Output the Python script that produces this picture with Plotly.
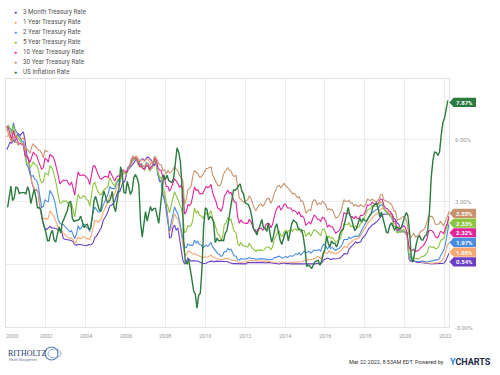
import plotly.graph_objects as go
import pandas as pd

# ---------------- data ----------------
series_names = ["3 Month Treasury Rate", "1 Year Treasury Rate", "2 Year Treasury Rate",
                "5 Year Treasury Rate", "10 Year Treasury Rate", "30 Year Treasury Rate",
                "US Inflation Rate"]
series_colors = ["#6a3fc6", "#f6a771", "#4a8de0", "#8bc53f", "#e0259a", "#c8926c", "#2b7a40"]

rate_3m = [
    5.50, 5.73, 5.86, 5.82, 5.99, 5.86, 6.14, 6.28, 6.18, 6.29, 6.36, 5.94,
    5.29, 5.01, 4.54, 3.97, 3.70, 3.57, 3.59, 3.44, 2.69, 2.20, 1.91, 1.72,
    1.68, 1.76, 1.83, 1.75, 1.76, 1.73, 1.71, 1.65, 1.66, 1.61, 1.25, 1.21,
    1.19, 1.19, 1.15, 1.15, 1.09, 0.94, 0.92, 0.97, 0.96, 0.94, 0.95, 0.91,
    0.90, 0.94, 0.95, 0.96, 1.04, 1.29, 1.36, 1.50, 1.68, 1.79, 2.11, 2.22,
    2.37, 2.58, 2.80, 2.84, 2.90, 3.04, 3.29, 3.52, 3.49, 3.79, 3.97, 3.97,
    4.34, 4.54, 4.63, 4.72, 4.84, 4.92, 5.08, 5.09, 4.93, 5.05, 5.07, 4.97,
    5.11, 5.16, 5.08, 5.01, 4.87, 4.74, 4.96, 4.32, 3.99, 4.00, 3.35, 3.07,
    2.82, 2.17, 1.28, 1.31, 1.76, 1.89, 1.66, 1.75, 1.15, 0.69, 0.19, 0.03,
    0.13, 0.30, 0.22, 0.16, 0.18, 0.18, 0.18, 0.17, 0.12, 0.07, 0.05, 0.05,
    0.06, 0.11, 0.15, 0.16, 0.16, 0.12, 0.16, 0.16, 0.15, 0.13, 0.14, 0.14,
    0.15, 0.13, 0.10, 0.06, 0.04, 0.04, 0.04, 0.02, 0.01, 0.02, 0.01, 0.01,
    0.03, 0.09, 0.08, 0.08, 0.09, 0.09, 0.10, 0.10, 0.11, 0.10, 0.09, 0.07,
    0.07, 0.10, 0.09, 0.06, 0.04, 0.05, 0.04, 0.04, 0.02, 0.05, 0.07, 0.07,
    0.04, 0.05, 0.05, 0.03, 0.03, 0.04, 0.03, 0.03, 0.02, 0.02, 0.02, 0.03,
    0.03, 0.02, 0.03, 0.02, 0.02, 0.02, 0.03, 0.07, 0.02, 0.02, 0.13, 0.23,
    0.26, 0.31, 0.29, 0.23, 0.27, 0.27, 0.30, 0.30, 0.29, 0.33, 0.45, 0.51,
    0.51, 0.52, 0.74, 0.80, 0.90, 0.99, 1.09, 1.03, 1.05, 1.09, 1.25, 1.34,
    1.43, 1.59, 1.73, 1.79, 1.90, 1.94, 1.99, 2.07, 2.17, 2.29, 2.37, 2.41,
    2.42, 2.44, 2.45, 2.43, 2.40, 2.22, 2.15, 1.99, 1.93, 1.68, 1.57, 1.57,
    1.55, 1.54, 0.30, 0.14, 0.13, 0.16, 0.13, 0.10, 0.11, 0.10, 0.09, 0.09,
    0.08, 0.04, 0.03, 0.02, 0.02, 0.04, 0.05, 0.05, 0.04, 0.05, 0.05, 0.06,
    0.15, 0.33, 0.54,
]

rate_1y = [
    6.12, 6.22, 6.22, 6.15, 6.33, 6.17, 6.08, 6.18, 6.13, 6.01, 6.09, 5.60,
    4.81, 4.68, 4.30, 3.98, 3.78, 3.58, 3.62, 3.47, 2.82, 2.33, 2.18, 2.22,
    2.16, 2.23, 2.57, 2.48, 2.35, 2.20, 1.96, 1.76, 1.72, 1.65, 1.49, 1.45,
    1.36, 1.30, 1.24, 1.27, 1.18, 1.01, 1.12, 1.31, 1.24, 1.25, 1.34, 1.31,
    1.24, 1.24, 1.19, 1.43, 1.78, 2.12, 2.10, 2.02, 2.12, 2.23, 2.50, 2.67,
    2.86, 3.03, 3.30, 3.32, 3.33, 3.36, 3.64, 3.87, 3.85, 4.18, 4.33, 4.35,
    4.45, 4.68, 4.77, 4.90, 5.00, 5.16, 5.22, 5.08, 4.97, 5.01, 5.01, 4.94,
    5.06, 5.05, 4.92, 4.93, 4.91, 4.96, 4.96, 4.47, 4.14, 4.10, 3.50, 3.26,
    2.71, 2.05, 1.54, 1.74, 2.06, 2.42, 2.28, 2.18, 1.91, 1.42, 1.07, 0.49,
    0.44, 0.62, 0.64, 0.55, 0.50, 0.51, 0.48, 0.46, 0.40, 0.37, 0.31, 0.37,
    0.35, 0.35, 0.40, 0.45, 0.37, 0.32, 0.29, 0.26, 0.26, 0.23, 0.25, 0.29,
    0.27, 0.29, 0.26, 0.25, 0.19, 0.18, 0.19, 0.11, 0.10, 0.11, 0.11, 0.12,
    0.12, 0.16, 0.19, 0.18, 0.19, 0.19, 0.19, 0.18, 0.18, 0.18, 0.18, 0.16,
    0.15, 0.16, 0.15, 0.12, 0.12, 0.14, 0.12, 0.13, 0.12, 0.12, 0.12, 0.13,
    0.12, 0.12, 0.13, 0.11, 0.10, 0.10, 0.11, 0.11, 0.11, 0.10, 0.13, 0.21,
    0.20, 0.22, 0.25, 0.23, 0.24, 0.28, 0.30, 0.38, 0.37, 0.26, 0.48, 0.65,
    0.54, 0.53, 0.66, 0.56, 0.59, 0.55, 0.51, 0.57, 0.59, 0.66, 0.74, 0.87,
    0.83, 0.82, 1.01, 1.04, 1.12, 1.20, 1.22, 1.23, 1.28, 1.40, 1.56, 1.70,
    1.80, 1.96, 2.06, 2.15, 2.27, 2.33, 2.39, 2.45, 2.56, 2.65, 2.70, 2.66,
    2.58, 2.55, 2.49, 2.42, 2.34, 2.00, 1.96, 1.77, 1.80, 1.61, 1.57, 1.55,
    1.53, 1.41, 0.33, 0.18, 0.16, 0.18, 0.14, 0.13, 0.13, 0.13, 0.12, 0.10,
    0.10, 0.07, 0.08, 0.06, 0.05, 0.07, 0.08, 0.07, 0.08, 0.11, 0.18, 0.30,
    0.55, 0.90, 1.05,
]

rate_2y = [
    6.44, 6.61, 6.53, 6.40, 6.81, 6.48, 6.34, 6.23, 6.08, 5.91, 5.88, 5.35,
    4.76, 4.66, 4.34, 4.23, 4.26, 4.08, 4.04, 3.76, 3.12, 2.73, 2.78, 3.11,
    3.03, 3.02, 3.56, 3.42, 3.26, 2.99, 2.56, 2.13, 2.00, 1.91, 1.92, 1.84,
    1.74, 1.63, 1.57, 1.62, 1.42, 1.23, 1.47, 1.86, 1.69, 1.75, 1.93, 1.91,
    1.76, 1.74, 1.58, 2.07, 2.53, 2.76, 2.64, 2.51, 2.53, 2.58, 2.85, 3.01,
    3.22, 3.38, 3.73, 3.65, 3.64, 3.64, 3.87, 4.04, 3.95, 4.27, 4.42, 4.40,
    4.40, 4.67, 4.73, 4.89, 4.97, 5.12, 5.12, 4.90, 4.77, 4.80, 4.74, 4.67,
    4.88, 4.85, 4.57, 4.67, 4.77, 5.00, 4.82, 4.34, 4.06, 3.97, 3.34, 3.12,
    2.48, 1.97, 1.62, 2.05, 2.45, 2.77, 2.57, 2.42, 2.08, 1.61, 1.21, 0.82,
    0.81, 0.98, 0.93, 0.93, 0.92, 1.18, 1.02, 1.12, 0.96, 0.95, 0.80, 0.87,
    0.93, 0.86, 0.96, 1.06, 0.83, 0.72, 0.62, 0.52, 0.48, 0.38, 0.45, 0.62,
    0.61, 0.77, 0.70, 0.73, 0.56, 0.41, 0.41, 0.23, 0.21, 0.28, 0.25, 0.26,
    0.24, 0.28, 0.34, 0.29, 0.29, 0.29, 0.25, 0.27, 0.26, 0.28, 0.27, 0.26,
    0.27, 0.27, 0.26, 0.23, 0.25, 0.33, 0.34, 0.36, 0.40, 0.34, 0.30, 0.34,
    0.39, 0.33, 0.40, 0.42, 0.39, 0.45, 0.51, 0.47, 0.57, 0.45, 0.53, 0.64,
    0.55, 0.62, 0.64, 0.54, 0.61, 0.69, 0.67, 0.70, 0.71, 0.64, 0.88, 0.98,
    0.90, 0.73, 0.88, 0.77, 0.82, 0.73, 0.67, 0.74, 0.77, 0.84, 0.98, 1.20,
    1.21, 1.20, 1.31, 1.24, 1.30, 1.34, 1.37, 1.34, 1.38, 1.55, 1.70, 1.84,
    2.03, 2.18, 2.28, 2.38, 2.51, 2.53, 2.61, 2.64, 2.77, 2.86, 2.86, 2.68,
    2.54, 2.50, 2.41, 2.34, 2.21, 1.81, 1.84, 1.57, 1.65, 1.55, 1.61, 1.61,
    1.52, 1.33, 0.45, 0.22, 0.17, 0.19, 0.14, 0.14, 0.13, 0.14, 0.17, 0.14,
    0.13, 0.12, 0.15, 0.16, 0.16, 0.20, 0.22, 0.22, 0.24, 0.39, 0.53, 0.69,
    0.97, 1.43, 1.97,
]

rate_5y = [
    6.58, 6.68, 6.50, 6.26, 6.69, 6.30, 6.18, 6.06, 5.93, 5.78, 5.70, 5.17,
    4.86, 4.89, 4.64, 4.76, 4.93, 4.81, 4.76, 4.57, 4.12, 3.91, 3.97, 4.39,
    4.34, 4.30, 4.74, 4.65, 4.49, 4.19, 3.81, 3.29, 2.94, 2.95, 3.05, 3.03,
    3.05, 2.90, 2.78, 2.93, 2.52, 2.27, 2.87, 3.37, 3.18, 3.19, 3.29, 3.27,
    3.12, 3.07, 2.79, 3.39, 3.85, 3.93, 3.69, 3.47, 3.36, 3.35, 3.53, 3.60,
    3.71, 3.77, 4.17, 4.00, 3.85, 3.77, 3.98, 4.12, 4.01, 4.33, 4.45, 4.39,
    4.35, 4.57, 4.72, 4.90, 5.00, 5.07, 5.04, 4.82, 4.67, 4.69, 4.58, 4.53,
    4.75, 4.71, 4.48, 4.59, 4.67, 5.03, 4.88, 4.43, 4.20, 4.20, 3.67, 3.49,
    2.98, 2.78, 2.48, 2.84, 3.15, 3.49, 3.30, 3.14, 2.88, 2.73, 2.29, 1.52,
    1.60, 1.87, 1.82, 1.86, 2.13, 2.71, 2.46, 2.57, 2.37, 2.33, 2.23, 2.34,
    2.48, 2.36, 2.43, 2.58, 2.18, 2.00, 1.76, 1.47, 1.41, 1.18, 1.35, 1.93,
    1.99, 2.26, 2.11, 2.17, 1.84, 1.58, 1.54, 1.02, 0.90, 1.06, 0.91, 0.89,
    0.84, 0.83, 1.02, 0.89, 0.76, 0.71, 0.62, 0.71, 0.67, 0.71, 0.67, 0.70,
    0.81, 0.85, 0.82, 0.71, 0.84, 1.20, 1.40, 1.52, 1.60, 1.37, 1.37, 1.58,
    1.65, 1.52, 1.64, 1.70, 1.59, 1.68, 1.70, 1.63, 1.77, 1.55, 1.62, 1.64,
    1.37, 1.47, 1.52, 1.35, 1.54, 1.68, 1.63, 1.54, 1.49, 1.39, 1.67, 1.70,
    1.52, 1.22, 1.38, 1.26, 1.30, 1.17, 1.07, 1.13, 1.18, 1.27, 1.60, 1.96,
    1.92, 1.90, 2.01, 1.82, 1.84, 1.77, 1.87, 1.78, 1.80, 1.98, 2.05, 2.18,
    2.38, 2.60, 2.63, 2.70, 2.82, 2.78, 2.78, 2.77, 2.89, 3.00, 2.95, 2.68,
    2.54, 2.49, 2.37, 2.33, 2.19, 1.83, 1.83, 1.49, 1.57, 1.53, 1.64, 1.68,
    1.56, 1.32, 0.59, 0.39, 0.34, 0.34, 0.28, 0.27, 0.27, 0.34, 0.39, 0.39,
    0.45, 0.54, 0.82, 0.86, 0.82, 0.84, 0.76, 0.77, 0.86, 1.11, 1.20, 1.23,
    1.54, 1.81, 2.33,
]

rate_10y = [
    6.66, 6.52, 6.26, 5.99, 6.44, 6.10, 6.05, 5.83, 5.80, 5.74, 5.72, 5.24,
    5.16, 5.10, 4.89, 5.14, 5.39, 5.28, 5.24, 4.97, 4.73, 4.57, 4.65, 5.09,
    5.04, 4.91, 5.28, 5.21, 5.16, 4.93, 4.65, 4.26, 3.87, 3.94, 4.05, 4.03,
    4.05, 3.90, 3.81, 3.96, 3.57, 3.33, 3.98, 4.45, 4.27, 4.29, 4.30, 4.27,
    4.15, 4.08, 3.83, 4.35, 4.72, 4.73, 4.50, 4.28, 4.13, 4.10, 4.19, 4.23,
    4.22, 4.17, 4.50, 4.34, 4.14, 4.00, 4.18, 4.26, 4.20, 4.46, 4.54, 4.47,
    4.42, 4.57, 4.72, 4.99, 5.11, 5.11, 5.09, 4.88, 4.72, 4.73, 4.60, 4.56,
    4.76, 4.72, 4.56, 4.69, 4.75, 5.10, 5.00, 4.67, 4.52, 4.53, 4.15, 4.10,
    3.74, 3.74, 3.51, 3.68, 3.88, 4.10, 4.01, 3.89, 3.69, 3.81, 3.53, 2.42,
    2.52, 2.87, 2.82, 2.93, 3.29, 3.72, 3.56, 3.59, 3.40, 3.39, 3.40, 3.59,
    3.73, 3.69, 3.73, 3.85, 3.42, 3.20, 3.01, 2.70, 2.65, 2.54, 2.76, 3.29,
    3.39, 3.58, 3.41, 3.46, 3.17, 3.00, 3.00, 2.30, 1.98, 2.15, 2.01, 1.98,
    1.97, 1.97, 2.17, 2.05, 1.80, 1.62, 1.53, 1.68, 1.72, 1.75, 1.65, 1.72,
    1.91, 1.98, 1.96, 1.76, 1.93, 2.30, 2.58, 2.74, 2.81, 2.62, 2.72, 2.90,
    2.86, 2.71, 2.72, 2.71, 2.56, 2.60, 2.54, 2.42, 2.53, 2.30, 2.33, 2.21,
    1.88, 1.98, 2.04, 1.94, 2.20, 2.36, 2.32, 2.17, 2.17, 2.07, 2.26, 2.24,
    2.09, 1.78, 1.89, 1.81, 1.81, 1.64, 1.50, 1.56, 1.63, 1.76, 2.14, 2.49,
    2.43, 2.42, 2.48, 2.30, 2.30, 2.19, 2.32, 2.21, 2.20, 2.36, 2.35, 2.40,
    2.58, 2.86, 2.84, 2.87, 2.98, 2.91, 2.89, 2.89, 3.00, 3.15, 3.12, 2.83,
    2.71, 2.68, 2.57, 2.53, 2.40, 2.07, 2.06, 1.63, 1.70, 1.71, 1.81, 1.86,
    1.76, 1.50, 0.87, 0.66, 0.67, 0.73, 0.62, 0.65, 0.68, 0.79, 0.87, 0.93,
    1.08, 1.26, 1.61, 1.64, 1.62, 1.52, 1.32, 1.28, 1.37, 1.58, 1.56, 1.47,
    1.76, 1.93, 2.32,
]

G = None  # 30-year series was not issued Mar 2002 - Jan 2006
rate_30y = [
    6.63, 6.23, 6.05, 5.85, 6.15, 5.93, 5.85, 5.72, 5.83, 5.80, 5.78, 5.49,
    5.54, 5.45, 5.34, 5.65, 5.78, 5.67, 5.61, 5.48, 5.48, 5.32, 5.12, 5.48,
    5.45, 5.40, G, G, G, G, G, G, G, G, G, G,
    G, G, G, G, G, G, G, G, G, G, G, G,
    G, G, G, G, G, G, G, G, G, G, G, G,
    G, G, G, G, G, G, G, G, G, G, G, G,
    G, 4.54, 4.73, 5.06, 5.20, 5.15, 5.13, 4.97, 4.85, 4.85, 4.69, 4.68,
    4.85, 4.82, 4.72, 4.87, 4.90, 5.20, 5.11, 4.93, 4.79, 4.77, 4.52, 4.53,
    4.33, 4.52, 4.39, 4.44, 4.60, 4.69, 4.57, 4.50, 4.27, 4.17, 4.00, 2.87,
    3.13, 3.59, 3.64, 3.76, 4.23, 4.52, 4.41, 4.37, 4.19, 4.19, 4.31, 4.49,
    4.60, 4.62, 4.64, 4.69, 4.29, 4.13, 3.99, 3.80, 3.77, 3.87, 4.19, 4.42,
    4.52, 4.65, 4.51, 4.50, 4.29, 4.23, 4.27, 3.65, 3.18, 3.13, 3.02, 2.98,
    3.03, 3.11, 3.28, 3.18, 2.93, 2.70, 2.59, 2.77, 2.88, 2.90, 2.80, 2.88,
    3.08, 3.17, 3.16, 2.93, 3.11, 3.40, 3.61, 3.76, 3.79, 3.68, 3.80, 3.89,
    3.77, 3.66, 3.62, 3.52, 3.39, 3.42, 3.33, 3.20, 3.26, 3.04, 3.04, 2.83,
    2.46, 2.57, 2.63, 2.59, 2.96, 3.11, 3.07, 2.86, 2.95, 2.89, 3.03, 2.97,
    2.86, 2.62, 2.68, 2.62, 2.63, 2.45, 2.23, 2.26, 2.35, 2.50, 2.86, 3.11,
    3.02, 3.03, 3.08, 2.94, 2.96, 2.80, 2.88, 2.80, 2.78, 2.88, 2.80, 2.77,
    2.88, 3.13, 3.09, 3.07, 3.13, 3.05, 3.01, 3.04, 3.15, 3.34, 3.36, 3.10,
    3.04, 3.02, 2.98, 2.94, 2.82, 2.57, 2.57, 2.12, 2.16, 2.19, 2.28, 2.30,
    2.22, 1.97, 1.46, 1.27, 1.38, 1.49, 1.31, 1.36, 1.42, 1.57, 1.62, 1.67,
    1.82, 2.04, 2.34, 2.30, 2.32, 2.16, 1.94, 1.92, 1.94, 2.06, 1.94, 1.85,
    2.10, 2.25, 2.55,
]

inflation = [
    2.74, 3.22, 3.76, 3.07, 3.19, 3.73, 3.66, 3.41, 3.45, 3.45, 3.45, 3.39,
    3.73, 3.53, 2.92, 3.27, 3.62, 3.25, 2.72, 2.72, 2.65, 2.13, 1.90, 1.55,
    1.14, 1.14, 1.48, 1.64, 1.18, 1.07, 1.46, 1.80, 1.51, 2.03, 2.20, 2.38,
    2.60, 2.98, 3.02, 2.22, 2.06, 2.11, 2.11, 2.16, 2.32, 2.04, 1.77, 1.88,
    1.93, 1.69, 1.74, 2.29, 3.05, 3.27, 2.99, 2.65, 2.54, 3.19, 3.52, 3.26,
    2.97, 3.01, 3.15, 3.51, 2.80, 2.53, 3.17, 3.64, 4.69, 4.35, 3.46, 3.42,
    3.99, 3.60, 3.36, 3.55, 4.17, 4.32, 4.15, 3.82, 2.06, 1.31, 1.97, 2.54,
    2.08, 2.42, 2.78, 2.57, 2.69, 2.69, 2.36, 1.97, 2.76, 3.54, 4.31, 4.08,
    4.28, 4.03, 3.98, 3.94, 4.18, 5.02, 5.60, 5.37, 4.94, 3.66, 1.07, 0.09,
    0.03, 0.24, -0.38, -0.74, -1.28, -1.43, -2.10, -1.48, -1.38, -0.18, 1.84, 2.72,
    2.63, 2.14, 2.31, 2.24, 2.02, 1.05, 1.24, 1.15, 1.14, 1.17, 1.14, 1.50,
    1.63, 2.11, 2.68, 3.16, 3.57, 3.56, 3.63, 3.77, 3.87, 3.53, 3.39, 2.96,
    2.93, 2.87, 2.65, 2.30, 1.70, 1.66, 1.41, 1.69, 1.99, 2.16, 1.76, 1.74,
    1.59, 1.98, 1.47, 1.06, 1.36, 1.75, 1.96, 1.52, 1.18, 0.96, 1.24, 1.50,
    1.58, 1.13, 1.51, 1.95, 2.13, 2.07, 1.99, 1.70, 1.66, 1.66, 1.32, 0.76,
    -0.09, -0.03, -0.07, -0.20, -0.04, 0.12, 0.17, 0.20, -0.04, 0.17, 0.50, 0.73,
    1.37, 1.02, 0.85, 1.13, 1.02, 1.01, 0.84, 1.06, 1.46, 1.64, 1.69, 2.07,
    2.50, 2.74, 2.38, 2.20, 1.87, 1.63, 1.73, 1.94, 2.23, 2.04, 2.20, 2.11,
    2.07, 2.21, 2.36, 2.46, 2.80, 2.87, 2.95, 2.70, 2.28, 2.52, 2.18, 1.91,
    1.55, 1.52, 1.86, 2.00, 1.79, 1.65, 1.81, 1.75, 1.71, 1.76, 2.05, 2.29,
    2.49, 2.33, 1.54, 0.33, 0.12, 0.65, 0.99, 1.31, 1.37, 1.18, 1.17, 1.36,
    1.40, 1.68, 2.62, 4.16, 4.99, 5.39, 5.37, 5.25, 5.39, 6.22, 6.81, 7.04,
    7.48, 7.87,
]

x_tick_years = [2000, 2002, 2004, 2006, 2008, 2010, 2012, 2014, 2016, 2018, 2020, 2022]
y_tick_vals = [-3, 0, 3, 6]
y_tick_text = ["-3.00%", "", "3.00%", "6.00%"]
x_range = ["2000-01-01", "2022-03-22"]
y_range = [-3.0, 8.9]
as_of = "Mar 22 2022, 8:53AM EDT. Powered by"

# ---------------- dates ----------------
n_rates = len(rate_3m)
rate_dates = list(pd.date_range("2000-01-01", periods=n_rates - 1, freq="MS") + pd.Timedelta(days=14))
rate_dates.append(pd.Timestamp(x_range[1]))
infl_dates = pd.date_range("2000-01-01", periods=len(inflation), freq="MS") + pd.offsets.MonthEnd(0)

all_series = [rate_3m, rate_1y, rate_2y, rate_5y, rate_10y, rate_30y, inflation]
all_dates = [rate_dates] * 6 + [list(infl_dates)]

# ---------------- geometry (pixels) ----------------
W, H = 500, 375
L, R, T, B = 6, 449, 79, 327
PW, PH = R - L, B - T
FONT = "Roboto, 'Open Sans', sans-serif"
x0_ts = pd.Timestamp(x_range[0])
x1_ts = pd.Timestamp(x_range[1])


def px(xp):
    return (xp - L) / PW


def py(yp):
    return 1 - (yp - T) / PH


def val_to_ypx(v):
    return T + (y_range[1] - v) / (y_range[1] - y_range[0]) * PH


def date_to_xpx(ts):
    return L + (ts - x0_ts) / (x1_ts - x0_ts) * PW


fig = go.Figure()
for name, color, xs, ys in zip(series_names, series_colors, all_dates, all_series):
    fig.add_trace(go.Scatter(
        x=xs, y=ys, name=name, mode="lines",
        line=dict(color=color, width=1.4 if name == "US Inflation Rate" else 1.1),
        connectgaps=False, showlegend=False, hoverinfo="skip"))

annotations = []
shapes = []

# legend
for i, (name, color) in enumerate(zip(series_names, series_colors)):
    yp = 11.7 + i * 10
    annotations.append(dict(x=px(15.7), y=py(yp), xref="paper", yref="paper", text="●",
                            showarrow=False, font=dict(size=5, color=color, family=FONT),
                            xanchor="center", yanchor="middle"))
    annotations.append(dict(x=px(21), y=py(yp), xref="paper", yref="paper", text=name,
                            showarrow=False, font=dict(size=6.3, color="#555555", family=FONT),
                            xanchor="left", yanchor="middle"))

# x tick labels (first one nudged inside, as in the reference)
for j, yr in enumerate(x_tick_years):
    xp = date_to_xpx(pd.Timestamp(f"{yr}-01-01"))
    if j == 0:
        xp = 12
    annotations.append(dict(x=px(xp), y=py(335.5), xref="paper", yref="paper", text=str(yr),
                            showarrow=False, font=dict(size=5.5, color="#999999", family=FONT),
                            xanchor="center", yanchor="middle"))

# end-value tags
last_vals = [s[-1] for s in all_series]
order = sorted(range(len(last_vals)), key=lambda k: -last_vals[k])
prev = -1e9
tag_h = 9.2
gap = 9.7
for k in order:
    yp = val_to_ypx(last_vals[k]) + 2
    if yp < prev + gap:
        yp = prev + gap
    prev = yp
    tip, x0, x1 = 449.5, 453.5, 476
    path = (f"M {px(tip)},{py(yp)} L {px(x0)},{py(yp - tag_h / 2)} L {px(x1)},{py(yp - tag_h / 2)} "
            f"L {px(x1)},{py(yp + tag_h / 2)} L {px(x0)},{py(yp + tag_h / 2)} Z")
    shapes.append(dict(type="path", path=path, xref="paper", yref="paper",
                       fillcolor=series_colors[k], line=dict(width=0), layer="above"))
    annotations.append(dict(x=px((x0 + x1) / 2 - 0.5), y=py(yp), xref="paper", yref="paper",
                            text=f"<b>{last_vals[k]:.2f}%</b>", showarrow=False,
                            font=dict(size=6, color="white", family=FONT),
                            xanchor="center", yanchor="middle"))

# y tick labels (right side, left aligned close to the plot)
for v, t in zip(y_tick_vals, y_tick_text):
    if t:
        annotations.append(dict(x=px(453), y=py(val_to_ypx(v)), xref="paper", yref="paper", text=t,
                                showarrow=False, font=dict(size=6, color="#999999", family=FONT),
                                xanchor="left", yanchor="middle"))

# footer: Ritholtz logo
annotations.append(dict(x=px(6), y=py(353), xref="paper", yref="paper", text="RITHOLTZ",
                        showarrow=False, font=dict(size=8, color="#1f3a6b",
                                                   family="'Liberation Serif', serif"),
                        xanchor="left", yanchor="middle"))
annotations.append(dict(x=px(7), y=py(360), xref="paper", yref="paper", text="Wealth Management",
                        showarrow=False, font=dict(size=3, color="#6b7fa6", family=FONT),
                        xanchor="left", yanchor="middle"))
shapes.append(dict(type="circle", xref="paper", yref="paper",
                   x0=px(45), x1=px(58), y0=py(360), y1=py(347),
                   line=dict(color="#5a7fb5", width=1.2)))
shapes.append(dict(type="circle", xref="paper", yref="paper",
                   x0=px(48), x1=px(61), y0=py(358), y1=py(349),
                   line=dict(color="#8aa6cf", width=1)))

# footer: source
annotations.append(dict(x=px(446), y=py(362), xref="paper", yref="paper", text=as_of,
                        showarrow=False, font=dict(size=5.5, color="#333333", family=FONT),
                        xanchor="right", yanchor="middle"))
annotations.append(dict(x=px(447.5), y=py(361.5), xref="paper", yref="paper",
                        text="<b><span style='color:#1e8be0'>Y</span>CHARTS</b>",
                        showarrow=False, font=dict(size=9, color="#1b2a47", family=FONT),
                        xanchor="left", yanchor="middle"))

fig.update_layout(
    width=W, height=H,
    margin=dict(l=L, r=W - R, t=T, b=H - B, pad=0),
    paper_bgcolor="white", plot_bgcolor="white",
    font=dict(family=FONT),
    showlegend=False,
    hovermode=False,
    annotations=annotations, shapes=shapes,
    xaxis=dict(type="date", range=x_range,
               tickvals=[f"{y}-01-01" for y in x_tick_years],
               showticklabels=False,
               showgrid=True, gridcolor="#ececec", gridwidth=1,
               showline=True, linecolor="#e2e2e2", linewidth=1, mirror=True,
               ticks="", zeroline=False),
    yaxis=dict(range=y_range, side="right",
               tickvals=y_tick_vals, showticklabels=False,
               showgrid=True, gridcolor="#ececec", gridwidth=1,
               showline=True, linecolor="#e2e2e2", linewidth=1, mirror=True,
               ticks="", zeroline=False),
)

fig.write_html("out.html", config={"displayModeBar": False, "staticPlot": True},
               post_script="document.body.style.margin='0px';")
